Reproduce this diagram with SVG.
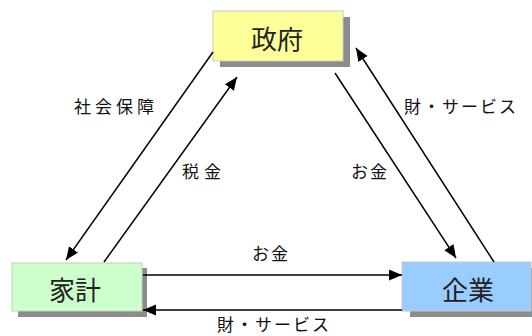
<svg xmlns="http://www.w3.org/2000/svg" width="532" height="336" viewBox="0 0 532 336">
<style>
.shadow{fill:#8c8c8c}
.box{stroke:#c8c8c8;stroke-width:1}
.name{font-family:"Noto Sans CJK JP","Noto Sans CJK SC",sans-serif;font-size:26px;fill:#222;text-anchor:middle;dominant-baseline:central}
.lbl{font-family:"Noto Sans CJK JP","Noto Sans CJK SC",sans-serif;font-size:17px;fill:#111;letter-spacing:2px}
.conn line{stroke:#000;stroke-width:1.5;marker-end:url(#arr)}
</style>
<defs>
<marker id="arr" markerUnits="userSpaceOnUse" markerWidth="14" markerHeight="12" refX="13" refY="5.5" orient="auto">
<path d="M0,0 L13,5.5 L0,11 Z" fill="#000"/>
</marker>
</defs>
<rect width="532" height="336" fill="#fff"/>
<g id="seifu">
<rect class="shadow" x="220" y="17" width="130" height="50"/>
<rect class="box" x="213" y="11" width="130" height="50" fill="#ffff99"/>
<text class="name" x="277" y="37">政府</text>
</g>
<g id="kakei">
<rect class="shadow" x="18" y="268" width="129" height="49"/>
<rect class="box" x="12" y="263" width="130" height="48" fill="#ccffcc"/>
<text class="name" x="75" y="288">家計</text>
</g>
<g id="kigyo">
<rect class="shadow" x="410" y="268" width="122" height="49"/>
<rect class="box" x="402" y="262" width="129" height="49" fill="#99ccff"/>
<text class="name" x="468" y="288">企業</text>
</g>
<g id="connectors" class="conn">
<line x1="213" y1="52" x2="66" y2="260"/>
<line x1="104" y1="262" x2="237" y2="77"/>
<line x1="335" y1="73" x2="456" y2="258"/>
<line x1="494" y1="262" x2="356" y2="48"/>
<line x1="143" y1="275" x2="402" y2="275"/>
<line x1="402" y1="310" x2="143" y2="310"/>
</g>
<g id="labels">
<text class="lbl" x="74" y="113" style="letter-spacing:4px">社会保障</text>
<text class="lbl" x="182" y="178" style="letter-spacing:5px">税金</text>
<text class="lbl" x="351" y="178">お金</text>
<text class="lbl" x="404" y="113">財・サービス</text>
<text class="lbl" x="252" y="260">お金</text>
<text class="lbl" x="217" y="331">財・サービス</text>
</g>
</svg>
